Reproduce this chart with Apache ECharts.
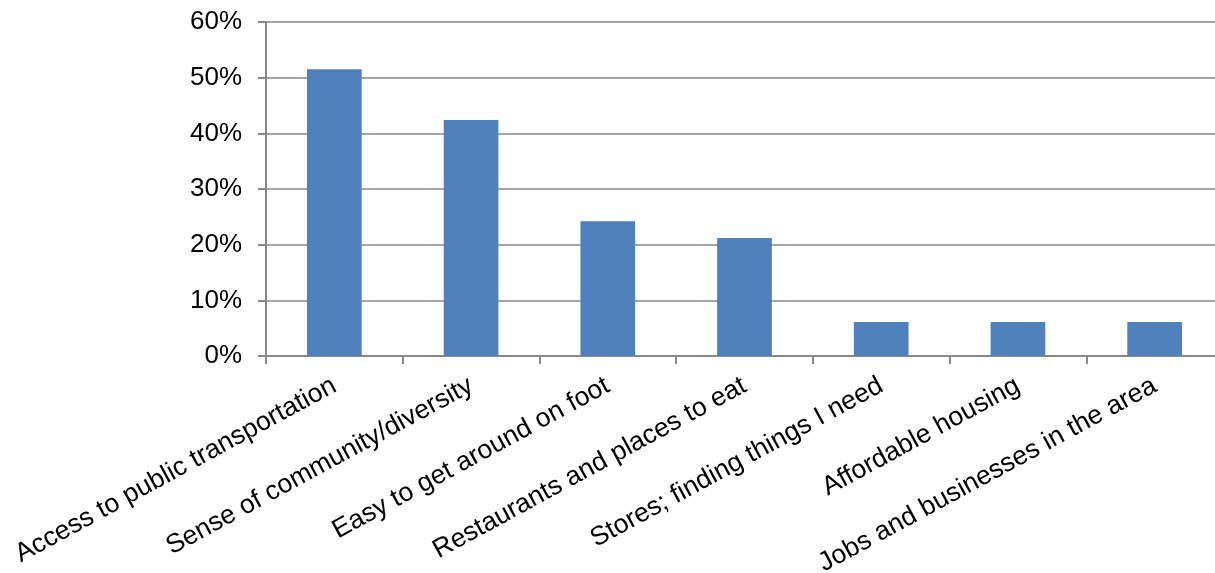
<!DOCTYPE html>
<html>
<head>
<meta charset="utf-8">
<script src="https://cdn.jsdelivr.net/npm/echarts@6/dist/echarts.min.js"></script>
<style>
  html, body { margin: 0; padding: 0; background: #fff; overflow: hidden; }
  #chart { width: 1223px; height: 573px; }
</style>
</head>
<body>
<div id="chart"></div>
<script>
// categories and shares (percent of respondents)
const categories = [
  'Access to public transportation',
  'Sense of community/diversity',
  'Easy to get around on foot',
  'Restaurants and places to eat',
  'Stores; finding things I need',
  'Affordable housing',
  'Jobs and businesses in the area'
];
const shares = [51.5, 42.4, 24.2, 21.2, 6.1, 6.1, 6.1];

const fontFamily = 'Liberation Sans, Arial, sans-serif';
const chart = echarts.init(document.getElementById('chart'));

const option = {
  backgroundColor: '#fff',
  animation: false,
  grid: {
    left: 266, right: 0, top: 22, bottom: 217,
    containLabel: false,
    outerBoundsMode: 'none'
  },
  xAxis: {
    type: 'category',
    data: categories,
    axisLine: { lineStyle: { color: '#898989', width: 2 } },
    axisTick: { show: true, length: 8, alignWithLabel: false, lineStyle: { color: '#898989', width: 2 } },
    axisLabel: {
      rotate: 28.5,
      interval: 0,
      margin: 28,
      color: '#000',
      fontSize: 26.5,
      fontFamily
    }
  },
  yAxis: {
    type: 'value',
    min: 0,
    max: 60,
    interval: 10,
    axisLine: { show: true, lineStyle: { color: '#898989', width: 2 } },
    axisTick: { show: true, length: 8, lineStyle: { color: '#898989', width: 2 } },
    splitLine: { lineStyle: { color: '#898989', width: 1.5 } },
    axisLabel: {
      formatter: '{value}%',
      margin: 24,
      color: '#000',
      fontSize: 26,
      fontFamily
    }
  },
  series: [{
    type: 'bar',
    data: shares,
    barWidth: '40%',
    itemStyle: { color: '#4F81BD' }
  }]
};

chart.setOption(option);
</script>
</body>
</html>
